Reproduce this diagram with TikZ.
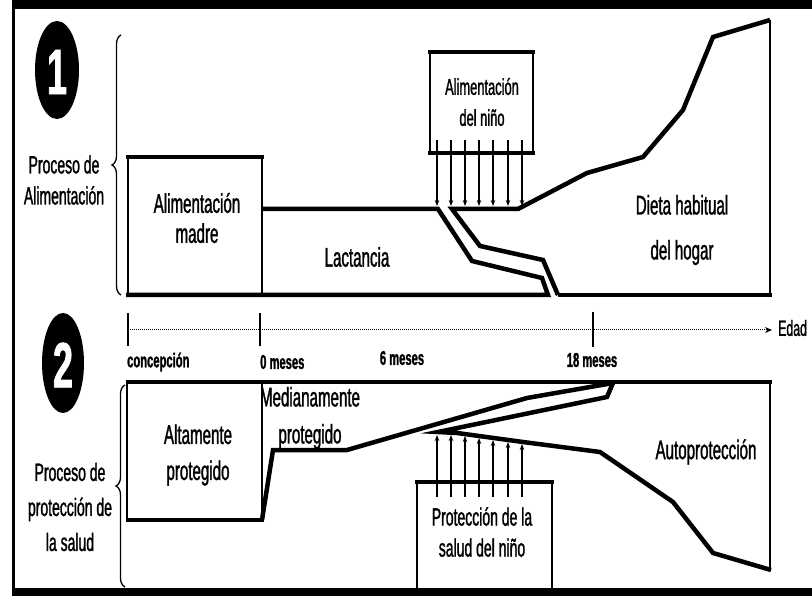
\documentclass[tikz,border=0pt]{standalone}
\usepackage{fontspec}
\setmainfont{Liberation Sans}[FakeStretch=0.56, FakeBold=1.2]
\usetikzlibrary{arrows.meta,decorations.pathreplacing}
\begin{document}
\begin{tikzpicture}[x=1pt,y=-1pt,
  thk/.style={line width=4.5pt, line join=miter, line cap=butt},
  thn/.style={line width=2pt},
  lbl/.style={font=\fontsize{27}{30}\selectfont, align=center, inner sep=0pt},
  ticklbl/.style={font=\bfseries\fontsize{20}{22}\selectfont, inner sep=0pt},
  arr/.style={line width=1.2pt, -{Stealth[length=6pt,width=4.5pt]}},
  num/.style={font=\bfseries\fontsize{64}{64}\selectfont, text=white, inner sep=0pt},
  brc/.style={line width=1.3pt, decorate, decoration={brace, amplitude=9pt}},
]
\useasboundingbox (0,0) rectangle (812,596);
% frame
\draw[line width=9pt] (12,4.5) -- (812,4.5);
\draw[line width=3pt] (13.5,0) -- (13.5,596);
\draw[line width=8pt] (12,592) -- (812,592);

% numbered ovals
\fill (57,70) ellipse [x radius=22, y radius=49];
\node[num] (one) at (57,72) {1};
\fill (63,363) ellipse [x radius=21, y radius=50];
\node[num] (two) at (63,365) {2};

% side labels and braces
\node[lbl, font=\fontsize{25}{31}\selectfont] (pa) at (64,180) {Proceso de\\Alimentación};
\draw[brc] (121,295) -- (121,35);
\node[lbl, font=\fontsize{25}{35}\selectfont] (ps) at (70,507) {Proceso de\\protección de\\la salud};
\draw[brc] (125,587) -- (125,385);

% ---------- Part 1 ----------
\draw[thn] (128,157) -- (128,295);
\draw[thn] (262,157) -- (262,295);
\draw[thk] (126,157) -- (264,157);
\node[lbl] (madre) at (197,218) {Alimentación\\madre};
\draw[thk] (262,209) -- (438,209) -- (472,261) -- (542,278) -- (548,295) -- (126,295);
\draw[thk] (558,295) -- (543,260) -- (480,246) -- (452,209) -- (518,209) -- (587,173) -- (643,157) -- (683,110) -- (713,37) -- (770,20);
\draw[thk] (558,295) -- (772,295);
\draw[thn] (770,20) -- (770,295);
\node[lbl] (lact) at (357,257) {Lactancia};
\node[lbl, font=\fontsize{27}{45}\selectfont] (dieta) at (682,230) {Dieta habitual\\del hogar};

% box Alimentacion del nino
\draw[thn] (430,52) -- (430,153);
\draw[thn] (533,52) -- (533,153);
\draw[thk] (428,52) -- (535,52);
\draw[thk] (428,153) -- (535,153);
\node[lbl, font=\fontsize{23}{31}\selectfont] (nino) at (482,102) {Alimentación\\del niño};
\foreach \x in {437,451,465,479,493,508,522}
  \draw[arr] (\x,140) -- (\x,206);

% ---------- timeline ----------
\coordinate (t0) at (128,330);
\coordinate (tend) at (772,330);
\draw[densely dotted, line width=1pt, -{Stealth[length=7pt,width=6pt]}] (t0) -- (tend);
\draw[line width=1.5pt] (128,313) -- (128,346);
\draw[line width=1.5pt] (260,313) -- (260,346);
\draw[line width=1.5pt] (593,312) -- (593,347);
\node[lbl, font=\fontsize{22}{24}\selectfont, anchor=west] (edad) at (778,328) {Edad};
\node[ticklbl, anchor=west] (conc) at (127,362) {concepción};
\node[ticklbl, anchor=west] (m0) at (260,362) {0 meses};
\node[ticklbl] (m6) at (402,358) {6 meses};
\node[ticklbl] (m18) at (592,360) {18 meses};

% ---------- Part 2 ----------
\draw[thk] (126,382) -- (772,382);
\draw[thn] (127,382) -- (127,520);
\draw[thn] (262,382) -- (262,520);
\draw[thk] (126,520) -- (264,520);
\node[lbl, font=\fontsize{27}{36}\selectfont] (alta) at (198,455) {Altamente\\protegido};
\draw[thk] (262,520) -- (273,450) -- (347,450) -- (527,398) -- (613,383);
\draw[thk] (613,383) -- (607,397) -- (438,432) -- (457,433) -- (523,442) -- (600,452) -- (673,502) -- (713,553) -- (771,570);
\draw[thn] (770,382) -- (770,570);
\node[lbl, font=\fontsize{27}{37}\selectfont] (media) at (310,418) {Medianamente\\protegido};
\node[lbl] (auto) at (706,452) {Autoprotección};

% box Proteccion de la salud del nino
\draw[thn] (417,482) -- (417,588);
\draw[thn] (552,482) -- (552,588);
\draw[thk] (415,482) -- (554,482);
\node[lbl, font=\fontsize{25}{31}\selectfont] (prot) at (482,532) {Protección de la\\salud del niño};
\foreach \x/\y in {437/435,451/435,465/436,479/438,493/440,508/442,522/444}
  \draw[arr] (\x,497) -- (\x,\y);
\end{tikzpicture}
\end{document}
